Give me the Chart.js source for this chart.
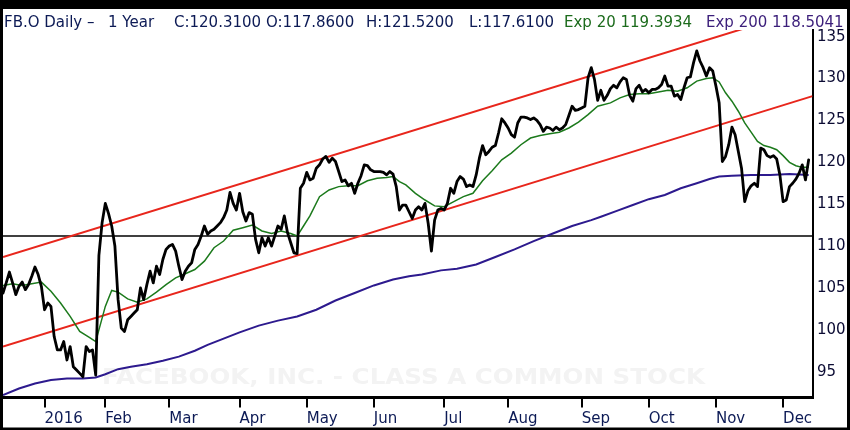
<!DOCTYPE html>
<html><head><meta charset="utf-8">
<script src="https://cdn.jsdelivr.net/npm/chart.js@4.4.0/dist/chart.umd.min.js"></script>
<style>html,body{margin:0;padding:0;background:#000;}canvas{display:block;}</style>
</head><body>
<canvas id="c" width="850" height="430" style="width:850px;height:430px"></canvas>
<script>
// ---- data (trading-day index 0 = mid Dec 2015, 252 = 13 Dec 2016) ----
const closePrices = [
104.4,105.6,106.9,105.6,104.2,105.2,105.7,104.8,105.4,106.4,
107.5,106.6,105.2,102.4,103.2,102.8,99.2,97.6,97.6,98.6,
96.4,98.0,95.6,95.2,94.8,94.4,98.0,97.4,97.6,94.6,
108.9,112.8,115.1,113.9,112.4,110.0,103.6,100.2,99.8,101.2,
101.6,102.0,102.4,105.0,103.6,105.4,107.0,105.6,107.6,106.6,
108.4,109.6,110.0,110.2,109.4,107.6,106.0,107.0,107.6,108.0,
109.6,110.2,111.2,112.4,111.4,111.8,112.0,112.4,112.8,113.4,
114.3,116.4,115.1,114.3,116.3,114.1,113.0,114.0,113.8,110.8,
109.2,111.0,110.0,111.0,110.0,111.2,112.4,112.0,113.6,111.6,
110.4,109.2,109.1,116.9,117.5,118.8,117.9,118.1,119.3,119.7,
120.4,120.7,120.0,120.5,120.1,118.9,117.7,117.9,117.2,117.5,
116.3,117.5,118.4,119.7,119.6,119.1,118.9,118.9,118.9,118.8,
118.5,118.9,118.6,117.1,114.3,114.9,114.9,114.1,113.3,114.3,
114.7,114.3,115.1,112.7,109.4,113.1,114.3,114.5,114.3,115.1,
116.9,116.3,117.7,118.3,118.0,117.1,117.3,117.1,118.5,120.5,
122.0,120.9,121.3,121.8,122.0,123.5,125.2,124.7,124.1,123.3,
123.0,124.7,125.4,125.4,125.3,125.1,125.3,125.0,124.5,123.7,
124.2,124.1,123.8,124.2,123.9,124.1,124.5,125.6,126.7,126.2,
126.3,126.5,126.7,130.1,131.3,129.9,127.4,128.6,127.4,128.0,
128.8,129.2,128.9,129.6,130.1,129.9,128.0,127.3,128.8,129.2,
128.4,128.7,128.3,128.7,128.7,128.9,129.3,130.3,129.1,129.1,
127.9,128.1,127.5,128.9,130.1,130.2,131.9,133.3,132.1,131.3,
130.3,131.3,130.9,129.1,127.1,120.1,120.7,122.1,124.2,123.3,
121.3,119.3,115.3,116.6,117.2,117.5,117.1,121.7,121.5,120.8,
120.6,120.8,120.4,118.5,115.3,115.5,117.1,117.5,118.0,118.7,
119.7,117.9,120.3
];
const ema20Days = [0,3,6,9,12,15,18,21,24,27,29,30,32,34,36,39,42,45,48,51,54,57,60,63,66,69,72,75,78,81,84,87,90,92,94,96,99,102,105,108,111,114,117,120,122,124,126,129,132,135,138,141,144,147,150,153,156,159,162,165,168,171,174,177,180,183,186,190,193,196,199,202,205,208,211,214,217,220,222,224,226,228,230,232,234,236,238,240,242,244,246,248,250,252];
const ema20Values = [105.3,105.5,105.3,105.5,105.7,104.6,103.2,101.6,99.8,99.1,98.6,100.0,102.8,104.7,104.5,103.7,103.3,103.7,104.5,105.4,106.2,106.7,107.2,108.2,109.8,110.6,111.9,112.2,112.5,111.8,111.5,111.8,111.5,111.2,112.4,113.6,115.9,116.7,117.1,117.2,117.2,117.8,118.1,118.2,118.3,117.7,117.3,116.3,115.5,114.8,114.7,115.3,115.9,116.3,117.8,119.0,120.3,121.1,122.1,122.9,123.2,123.4,123.6,124.1,124.8,125.7,126.7,127.1,127.7,128.1,128.2,128.2,128.4,128.6,128.5,128.9,129.7,130.0,130.1,129.6,128.3,127.3,126.1,124.7,123.6,122.5,122.0,121.8,121.5,120.8,120.0,119.6,119.4,119.4];
const ema200Days = [0,5,10,15,20,25,29,32,36,40,45,50,55,60,64,68,74,80,86,92,98,104,110,116,122,127,131,137,142,148,154,160,166,172,178,184,187,192,197,202,207,212,217,221,224,228,234,240,246,252];
const ema200Values = [92.2,93.0,93.6,94.0,94.2,94.2,94.3,94.7,95.3,95.6,95.9,96.3,96.8,97.5,98.2,98.8,99.7,100.5,101.1,101.6,102.4,103.5,104.4,105.3,106.0,106.4,106.6,107.1,107.3,107.8,108.7,109.6,110.6,111.5,112.4,113.1,113.5,114.2,114.9,115.6,116.1,116.9,117.5,118.0,118.3,118.4,118.5,118.5,118.6,118.5];
const channelDays = [0, 253.2];
const channelUpper = [108.7, 138.5];
const channelLower = [98.0, 127.9];
const supportLevel = 111.2;
const monthTickDays = [13,32,52,74,95,116,138,158,181,202,223,244];
const monthTickLabels = ['2016','Feb','Mar','Apr','May','Jun','Jul','Aug','Sep','Oct','Nov','Dec'];
const priceTicks = [95,100,105,110,115,120,125,130,135];
const titleTexts = ['FB.O Daily \u2013','1 Year','C:120.3100','O:117.8600','H:121.5200','L:117.6100','Exp 20 119.3934','Exp 200 118.5041'];
const watermarkText = 'FACEBOOK, INC. - CLASS A COMMON STOCK';

// ---- drawing ----
const FONT = '"DejaVu Sans", Verdana, sans-serif';
const titleX = [4,108,174,266,366,469,564,706];
const titleColors = ['#0c1a55','#0c1a55','#0c1a55','#0c1a55','#0c1a55','#0c1a55','#1c6b1c','#3b1e7a'];

const framePlugin = {
  id: 'frame',
  beforeDraw(chart) {
    const ctx = chart.ctx;
    ctx.save();
    ctx.fillStyle = '#000';
    ctx.fillRect(0, 0, chart.width, chart.height);
    ctx.fillStyle = '#fff';
    ctx.fillRect(3, 9, 844, 418.5);
    ctx.restore();
  },
  beforeDatasetsDraw(chart) {
    const ctx = chart.ctx;
    ctx.save();
    ctx.font = 'bold 22px ' + FONT;
    const w = ctx.measureText(watermarkText).width;
    const target = 603;
    ctx.translate(102, 383.5);
    ctx.scale(target / w, 1);
    ctx.fillStyle = '#f3f3f3';
    ctx.textBaseline = 'alphabetic';
    ctx.fillText(watermarkText, 0, 0);
    ctx.restore();
  },
  afterDraw(chart) {
    const ctx = chart.ctx;
    ctx.save();
    ctx.font = '15px ' + FONT;
    ctx.textBaseline = 'alphabetic';
    titleTexts.forEach((t, i) => {
      ctx.fillStyle = titleColors[i];
      ctx.fillText(t, titleX[i], 26.5);
    });
    ctx.restore();
  }
};

const toXY = (xs, ys) => xs.map((x, i) => ({x: x, y: ys[i]}));
const lineDs = (label, data, color, width, extra) => Object.assign({
  label, data, borderColor: color, backgroundColor: color, borderWidth: width,
  pointRadius: 0, pointHoverRadius: 0, tension: 0, fill: false
}, extra || {});

new Chart(document.getElementById('c'), {
  type: 'line',
  data: {
    datasets: [
      lineDs('Close', closePrices.map((v, i) => ({x: i, y: v})), '#000000', 2.8, {borderJoinStyle: 'round', borderCapStyle: 'round'}),
      lineDs('Exp 20', toXY(ema20Days, ema20Values), '#1c7a1c', 1.5),
      lineDs('Exp 200', toXY(ema200Days, ema200Values), '#2d1a8e', 2),
      lineDs('Channel upper', toXY(channelDays, channelUpper), '#e8261c', 2),
      lineDs('Channel lower', toXY(channelDays, channelLower), '#e8261c', 2),
      lineDs('Support', toXY(channelDays, channelDays.map(() => supportLevel)), '#000000', 1.5)
    ]
  },
  plugins: [framePlugin],
  options: {
    responsive: false,
    animation: false,
    devicePixelRatio: 1,
    layout: {padding: {left: 3, top: 30, right: 3, bottom: 3}},
    plugins: {legend: {display: false}, tooltip: {enabled: false}, title: {display: false}},
    scales: {
      x: {
        type: 'linear', position: 'bottom', min: 0, max: 253.2,
        afterBuildTicks: s => { s.ticks = monthTickDays.map(v => ({value: v})); },
        afterFit: s => { s.height = 29.5; },
        ticks: {
          autoSkip: false, maxRotation: 0, minRotation: 0, align: 'start', padding: 3,
          color: '#0c1a55', font: {family: FONT, size: 15},
          callback: v => monthTickLabels[monthTickDays.indexOf(v)]
        },
        grid: {display: true, drawOnChartArea: false, drawTicks: true, tickLength: 10, color: '#000', lineWidth: 2},
        border: {display: true, color: '#000', width: 3}
      },
      y: {
        type: 'linear', position: 'right', min: 91.92, max: 135.8,
        afterBuildTicks: s => { s.ticks = priceTicks.map(v => ({value: v})); },
        afterFit: s => { s.width = 34.5; },
        ticks: {padding: 4.5, color: '#0b0b33', font: {family: FONT, size: 15}, callback: v => String(v)},
        grid: {display: false, drawTicks: false},
        border: {display: true, color: '#000', width: 2}
      }
    }
  }
});
</script>
</body></html>
